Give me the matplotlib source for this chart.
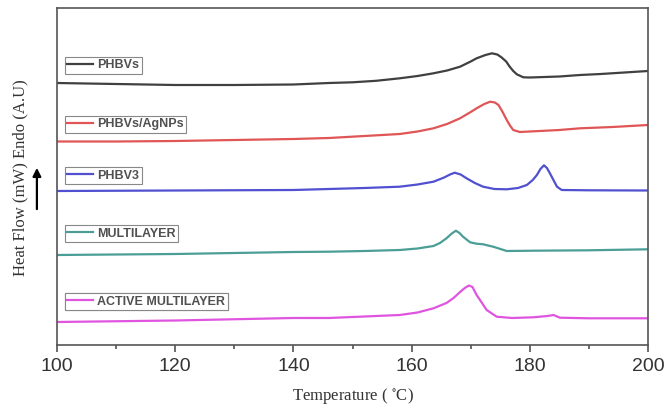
import matplotlib
matplotlib.use('Agg')
import matplotlib.pyplot as plt
from matplotlib.ticker import MultipleLocator

plt.rcParams['mathtext.fontset'] = 'stix'

# temperatures (C) and heat flow (arbitrary units, stacked traces)
t_phbvs = [100, 110, 120, 130, 140, 146, 150, 154, 158, 161, 163.7, 166, 168.2, 170, 171, 172.5, 173.6,
           174.5, 175.2, 176, 176.6, 177.2, 177.8, 178.9, 180, 185, 188.5, 192, 196, 200]
hf_phbvs = [262, 261, 260, 260, 260.5, 262, 262.7, 264.2, 266.7, 269, 271.7, 274.5, 278.3, 283.5, 286.7, 290,
            291.7, 290.5, 287.7, 283.5, 278.3, 274, 270.7, 267.7, 267.5, 268.5, 270, 271, 272.5, 274]

t_agnps = [100, 110, 120, 130, 140, 146, 152, 158, 161, 163.7, 166, 168.2, 170, 171, 172.3, 173.3, 174.1,
           174.7, 175.4, 176.1, 176.7, 177.2, 178.3, 180, 185, 188.5, 194, 200]
hf_agnps = [203.5, 203.5, 204, 205, 206, 207, 209, 211, 213.5, 216.7, 221, 226.7, 233, 236.7, 241, 243.3, 242.5,
            240, 233, 225, 219, 215, 213, 213.5, 215, 216.7, 218, 220]

t_phbv3 = [100, 120, 140, 146, 152, 158, 161, 163.7, 165.5, 166.5, 167.3, 168.3, 169.3, 170.7, 172.1, 174,
           176.1, 178, 179.5, 180.5, 181.2, 181.8, 182.4, 182.9, 183.4, 184, 184.6, 185.4, 190, 200]
hf_phbv3 = [154, 154.5, 155, 156, 157, 158.3, 160.5, 163.3, 167.5, 170.5, 172.3, 170.5, 166.7, 162, 158.3, 156,
            155.7, 157, 160, 165, 170, 176, 179.7, 177, 171.7, 165, 158.3, 155, 154.7, 154.5]

t_multi = [100, 120, 140, 146, 152, 158, 161, 163.7, 164.8, 165.9, 166.8, 167.5, 168.1, 168.7, 169.9, 171,
           172.1, 173.8, 176.1, 180.6, 190, 200]
hf_multi = [90, 91, 93, 93.3, 94, 95, 96.5, 99, 102, 106.7, 111.5, 114.3, 112, 108.3, 102.7, 101.3,
            100.7, 98.3, 94, 94.3, 94.7, 95.7]

t_active = [100, 120, 140, 146, 152, 158, 161, 163.7, 165.9, 167.1, 168.2, 169, 169.7, 170.3, 171, 171.8,
            172.7, 174.4, 177, 180.6, 183, 184, 185.1, 190, 200]
hf_active = [23, 24.5, 27, 27, 28.5, 30, 32.5, 36.7, 42, 47, 53, 57, 59.5, 58, 50, 43,
             35, 28.3, 27, 27.7, 29, 30, 27.3, 26.7, 26.7]

labels = ['PHBVs', 'PHBVs/AgNPs', 'PHBV3', 'MULTILAYER', 'ACTIVE MULTILAYER']
colors = ['#404040', '#e05555', '#5050d0', '#4a9e96', '#e055e0']
legend_tops = [0.855, 0.680, 0.528, 0.356, 0.154]

fig = plt.figure(figsize=(6.72, 4.19), dpi=100)
ax = fig.add_axes([57 / 672, 74 / 419, 591 / 672, 337 / 419])

series = [(t_phbvs, hf_phbvs), (t_agnps, hf_agnps), (t_phbv3, hf_phbv3),
          (t_multi, hf_multi), (t_active, hf_active)]

for (t, hf), lab, col, ytop in zip(series, labels, colors, legend_tops):
    line, = ax.plot(t, hf, color=col, lw=1.6, solid_joinstyle='round')
    leg = ax.legend([line], [lab], loc='upper left', bbox_to_anchor=(0.013, ytop),
                    frameon=True, fancybox=False, edgecolor='#888888', framealpha=1,
                    handlelength=2.1, handletextpad=0.3, borderpad=0.2, borderaxespad=0,
                    prop={'family': 'Liberation Sans', 'size': 9, 'weight': 'bold'})
    for txt in leg.get_texts():
        txt.set_color('#505050')
    leg.get_frame().set_linewidth(0.8)
    ax.add_artist(leg)

ax.set_xlim(100, 200)
ax.set_ylim(0, 337)
ax.xaxis.set_major_locator(MultipleLocator(20))
ax.xaxis.set_minor_locator(MultipleLocator(10))
ax.set_yticks([])
ax.tick_params(axis='x', which='major', direction='out', length=5, width=1.1, color='#444444',
               labelsize=14, pad=4)
ax.tick_params(axis='x', which='minor', direction='out', length=3, width=1.1, color='#444444')
for lbl in ax.get_xticklabels():
    lbl.set_family('Liberation Sans')
    lbl.set_color('#333333')
for sp in ax.spines.values():
    sp.set_color('#555555')
    sp.set_linewidth(1.2)

ax.set_xlabel('Temperature ( $^{\\circ}$C)', family='Liberation Serif', fontsize=12, color='#333333',
              labelpad=8)
fig.text(20 / 672, 1 - 178 / 419, 'Heat Flow (mW) Endo (A.U)', rotation=90, ha='center', va='center',
         family='Liberation Serif', fontsize=12, color='#333333')

ax.annotate('', xy=(-0.034, 0.534), xytext=(-0.034, 0.395), xycoords='axes fraction',
            annotation_clip=False,
            arrowprops=dict(arrowstyle='-|>', color='black', lw=1.6, mutation_scale=12))

fig.savefig('out.png', dpi=100)
